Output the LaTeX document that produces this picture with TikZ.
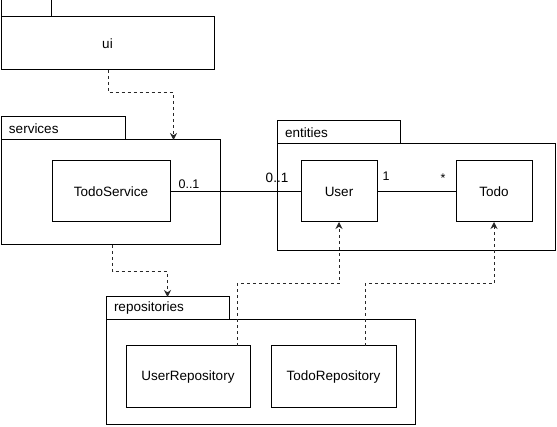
\documentclass[tikz,border=0pt]{standalone}
\usepackage{fontspec}
\setmainfont{Liberation Sans}
\usepackage{tikz}
\usetikzlibrary{positioning, arrows.meta}
\definecolor{linea}{RGB}{0, 0, 0}
\definecolor{rasgo}{RGB}{40, 40, 40}
\tikzset{
    pkg/.style={draw=linea, rectangle, inner sep=0pt, outer sep=0pt, line width=1pt},
    pkgTab/.style={pkg, minimum height=23, text width=#1, inner xsep=8pt, align=left},
    cls/.style={draw=linea, rectangle, inner sep=0pt, outer sep=0pt, line width=1pt, minimum height=61},
    mult/.style={inner sep=0pt, font=\fontsize{12.5}{14}\selectfont},
    assoc/.style={-, linea, line width=1pt},
    dep/.style={-{Stealth[length=7pt, width=7pt]}, rasgo, dash pattern=on 3pt off 3pt, line width=1pt},
}
\begin{document}
\begin{tikzpicture}[x=1pt, y=-1pt, font=\fontsize{13.5}{16}\selectfont]
        \useasboundingbox (0,0) rectangle (557,427);

        % packages
        \node [pkg, minimum width=213, minimum height=53] (uiBody) at (107.5,43.5) {ui};
        \node [pkg, minimum width=50, minimum height=17, above right=0pt of uiBody.north west] (uiTab) {};

        \node [pkg, minimum width=219, minimum height=105] (srvBody) at (110.5,192.5) {};
        \node [pkgTab=108, above right=0pt of srvBody.north west] (srvTab) {services};

        \node [pkg, minimum width=278, minimum height=107] (entBody) at (416,197.5) {};
        \node [pkgTab=107, above right=0pt of entBody.north west] (entTab) {entities};

        \node [pkg, minimum width=309, minimum height=105] (repoBody) at (260.5,372.5) {};
        \node [pkgTab=107, above right=0pt of repoBody.north west] (repoTab) {repositories};

        % classes
        \node [cls, minimum width=118] (todoSrv) at (111,191.5) {TodoService};
        \node [cls, minimum width=76] (user) at (339,191.5) {User};
        \node [cls, minimum width=76] (todo) at (494,191.5) {Todo};
        \node [cls, minimum width=124, minimum height=62] (userRepo) at (188,377) {UserRepository};
        \node [cls, minimum width=125, minimum height=62] (todoRepo) at (333.5,377) {TodoRepository};

        % multiplicities
        \node [mult] (m1) at (189,184) {0..1};
        \node [mult, font=\fontsize{13.5}{16}\selectfont] (m2) at (277,178) {0..1};
        \node [mult] (m3) at (386,176) {1};
        \node [mult] (m4) at (443,178) {*};

        \draw[assoc] (todoSrv) -- (user);
        \draw[assoc] (user) -- (todo);

        \draw[dep] ([xshift=1pt]uiBody.south) -- ++(0,23) -| ([xshift=63pt]srvBody.north);
        \draw[dep] ([xshift=2pt]srvBody.south) -- ++(0,27) -| (repoTab.north);
        \draw[dep] ([xshift=49pt]userRepo.north) -- ++(0,-62) -| (user.south);
        \draw[dep] ([xshift=31.5pt]todoRepo.north) -- ++(0,-62) -| (todo.south);
\end{tikzpicture}
\end{document}
